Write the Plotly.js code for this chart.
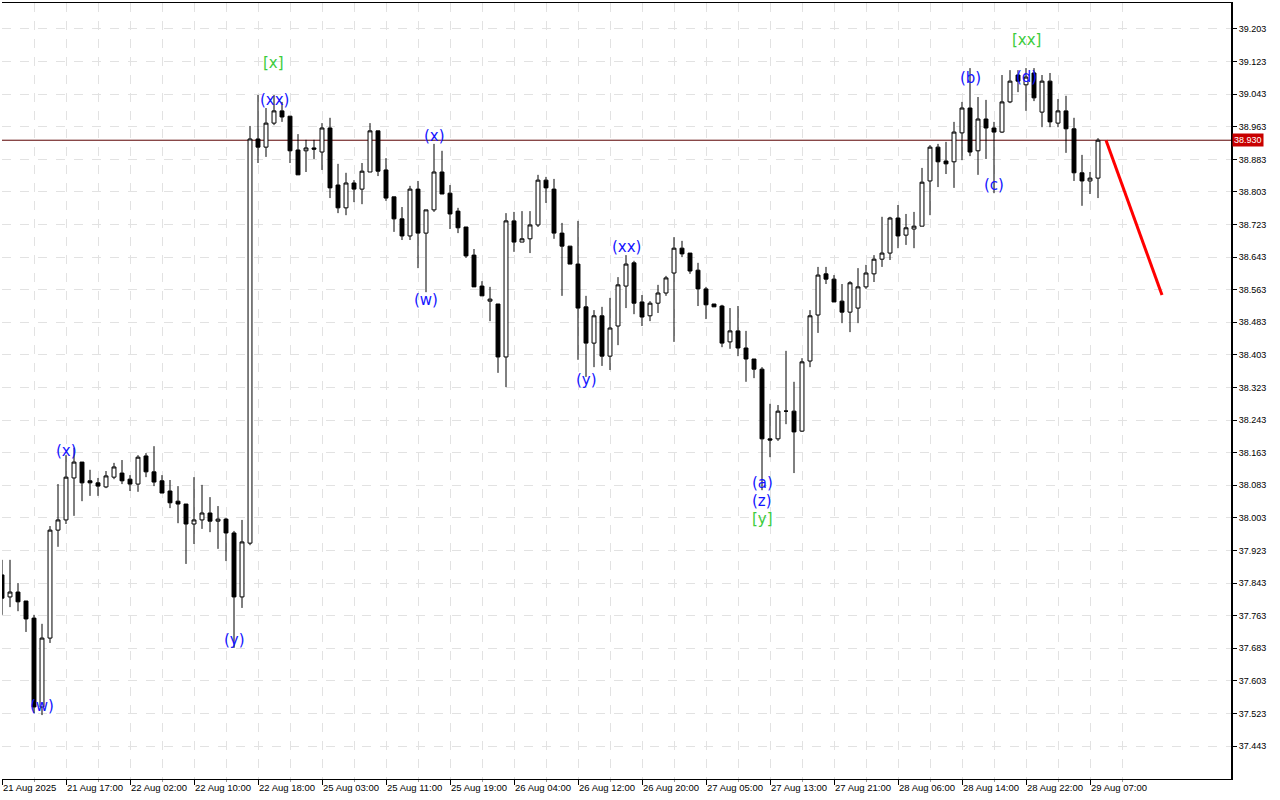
<!DOCTYPE html>
<html><head><meta charset="utf-8">
<script src="https://cdn.plot.ly/plotly-3.0.1.min.js"></script>
<style>html,body{margin:0;padding:0;background:#fff}#chart{width:1280px;height:800px}</style>
</head><body><div id="chart"></div>
<script>
const openP=[37.863,37.809,37.821,37.799,37.757,37.539,37.708,37.973,37.998,38.101,
38.140,38.094,38.089,38.079,38.103,38.113,38.098,38.086,38.155,38.116,
38.094,38.069,38.044,38.037,37.988,37.998,38.015,37.995,38.000,37.966,
37.809,37.941,38.933,38.913,38.972,39.002,38.989,38.906,38.904,38.911,
38.901,38.960,38.820,38.764,38.825,38.810,38.852,38.953,38.857,38.791,
38.737,38.695,38.810,38.702,38.759,38.852,38.800,38.756,38.717,38.648,
38.572,38.535,38.528,38.398,38.732,38.680,38.688,38.722,38.832,38.810,
38.702,38.670,38.626,38.521,38.432,38.499,38.400,38.474,38.572,38.629,
38.533,38.499,38.530,38.555,38.604,38.665,38.653,38.611,38.565,38.528,
38.523,38.435,38.462,38.420,38.393,38.368,38.197,38.197,38.265,38.265,
38.216,38.388,38.501,38.602,38.589,38.535,38.508,38.518,38.570,38.602,
38.638,38.653,38.739,38.697,38.712,38.719,38.830,38.913,38.879,38.877,
38.948,39.009,38.904,38.982,38.960,38.950,39.024,39.090,39.066,39.095,
38.999,39.075,38.972,39.002,38.958,38.850,38.830,38.837];
const highP=[37.900,37.900,37.843,37.799,37.765,37.743,37.983,38.086,38.157,38.175,
38.140,38.121,38.101,38.118,38.138,38.145,38.108,38.157,38.162,38.179,
38.108,38.096,38.081,38.037,38.103,38.084,38.054,38.032,38.003,37.971,
37.998,38.965,39.041,39.009,39.041,39.024,38.989,38.945,38.931,38.931,
38.972,38.985,38.872,38.850,38.832,38.874,38.972,38.953,38.886,38.791,
38.766,38.818,38.830,38.759,38.921,38.904,38.820,38.764,38.717,38.663,
38.584,38.570,38.528,38.751,38.754,38.756,38.756,38.845,38.840,38.835,
38.727,38.670,38.732,38.548,38.513,38.521,38.543,38.594,38.648,38.634,
38.550,38.535,38.575,38.597,38.692,38.683,38.653,38.629,38.570,38.528,
38.526,38.518,38.523,38.462,38.393,38.373,38.283,38.280,38.413,38.337,
38.395,38.513,38.619,38.619,38.599,38.577,38.584,38.616,38.624,38.648,
38.742,38.742,38.771,38.749,38.754,38.862,38.918,38.921,38.926,38.975,
39.024,39.107,39.036,39.029,38.975,39.090,39.102,39.102,39.107,39.107,
39.090,39.095,39.031,39.039,38.985,38.894,38.852,38.935];
const lowP=[37.765,37.784,37.774,37.723,37.524,37.519,37.696,37.932,37.988,38.008,
38.044,38.057,38.057,38.076,38.098,38.086,38.069,38.067,38.103,38.081,
38.064,38.027,37.990,37.890,37.939,37.976,37.968,37.927,37.897,37.684,
37.782,37.936,38.874,38.889,38.967,38.975,38.874,38.845,38.852,38.884,
38.857,38.788,38.751,38.746,38.778,38.773,38.852,38.842,38.781,38.705,
38.685,38.685,38.616,38.557,38.754,38.798,38.712,38.702,38.641,38.570,
38.548,38.486,38.359,38.324,38.656,38.680,38.653,38.717,38.776,38.688,
38.548,38.626,38.391,38.349,38.373,38.376,38.366,38.427,38.518,38.503,
38.474,38.486,38.506,38.548,38.435,38.643,38.602,38.523,38.491,38.521,
38.422,38.418,38.400,38.337,38.346,38.071,38.152,38.192,38.233,38.113,
38.214,38.373,38.457,38.577,38.533,38.481,38.459,38.481,38.565,38.582,
38.619,38.636,38.665,38.673,38.665,38.719,38.746,38.815,38.847,38.813,
38.881,38.891,38.845,38.884,38.800,38.948,39.021,39.048,39.002,39.026,
38.962,38.962,38.962,38.899,38.830,38.769,38.798,38.788];
const closeP=[37.806,37.821,37.797,37.755,37.539,37.708,37.973,37.998,38.103,38.140,
38.089,38.089,38.081,38.106,38.128,38.094,38.086,38.152,38.116,38.091,
38.064,38.040,38.037,37.988,37.998,38.015,37.995,38.000,37.966,37.809,
37.944,38.933,38.913,38.972,39.002,38.987,38.904,38.845,38.911,38.908,
38.960,38.813,38.764,38.825,38.810,38.854,38.953,38.854,38.788,38.737,
38.695,38.810,38.702,38.759,38.852,38.798,38.749,38.715,38.646,38.570,
38.548,38.540,38.398,38.732,38.680,38.688,38.722,38.832,38.813,38.702,
38.670,38.626,38.518,38.432,38.499,38.400,38.469,38.575,38.626,38.530,
38.496,38.530,38.555,38.592,38.665,38.651,38.609,38.565,38.526,38.521,
38.432,38.462,38.420,38.393,38.368,38.197,38.194,38.265,38.265,38.214,
38.386,38.499,38.599,38.589,38.533,38.508,38.580,38.570,38.604,38.638,
38.653,38.739,38.695,38.715,38.719,38.827,38.913,38.877,38.872,38.950,
39.009,38.901,38.982,38.960,38.950,39.024,39.075,39.075,39.085,39.034,
39.075,38.975,39.002,38.958,38.850,38.830,38.837,38.930];

const tickPos=[0,8,16,24,32,40,48,56,64,72,80,88,96,104,112,120,128,136];
const tickText=['21 Aug 2025','21 Aug 17:00','22 Aug 02:00','22 Aug 10:00','22 Aug 18:00','25 Aug 03:00','25 Aug 11:00','25 Aug 19:00','26 Aug 04:00','26 Aug 12:00','26 Aug 20:00','27 Aug 05:00','27 Aug 13:00','27 Aug 21:00','28 Aug 06:00','28 Aug 14:00','28 Aug 22:00','29 Aug 07:00'];
const yTickVals=[37.443,37.523,37.603,37.683,37.763,37.843,37.923,38.003,38.083,38.163,38.243,38.323,38.403,38.483,38.563,38.643,38.723,38.803,38.883,38.963,39.043,39.123,39.203];

const currentPrice=38.930;
const forecastX=[138,145];
const forecastY=[38.930,38.550];

const waveText=['(w)','(x)','(y)','[x]','(xx)','(x)','(w)','(y)','(xx)','(a)','(z)','[y]','(b)','(c)','(d)','[xx]'];
const waveX=[5,8,29,33.9,34,54,53,73,78,95,95,95,121,124,128,128];
const waveY=[37.541,38.167,37.703,39.120,39.029,38.940,38.538,38.341,38.668,38.089,38.044,38.000,39.083,38.820,39.085,39.176];
const waveColor=['#1414ff','#1414ff','#1414ff','#3ccc3c','#1414ff','#1414ff','#1414ff','#1414ff','#1414ff','#1414ff','#1414ff','#3ccc3c','#1414ff','#1414ff','#1414ff','#3ccc3c'];

const idx=openP.map((_,i)=>i);
const minorPos=tickPos.map(v=>v+4);
const FONT='Liberation Sans, Arial, sans-serif';

const traces=[
 {type:'candlestick',x:idx,open:openP,high:highP,low:lowP,close:closeP,
  increasing:{line:{color:'#000',width:1},fillcolor:'#ffffff'},
  decreasing:{line:{color:'#000',width:1},fillcolor:'#000000'},
  whiskerwidth:0,hoverinfo:'x+y',showlegend:false},
 {type:'scatter',mode:'lines',x:forecastX,y:forecastY,line:{color:'#ff0000',width:3},showlegend:false,hoverinfo:'skip'}
];

const annotations=waveText.map((t,i)=>({x:waveX[i],y:waveY[i],xref:'x',yref:'y',text:t,showarrow:false,
  font:{family:'DejaVu Sans, sans-serif',size:15,color:waveColor[i]},xanchor:'center',yanchor:'middle'}));
annotations.push({xref:'paper',x:1,xanchor:'left',yref:'y',y:currentPrice,yanchor:'middle',text:currentPrice.toFixed(3),
  showarrow:false,bgcolor:'#c80000',font:{family:FONT,size:9,color:'#ffffff'},borderpad:1,xshift:1});

const layout={
 width:1280,height:800,
 margin:{l:2,r:49,t:3,b:21},
 paper_bgcolor:'#ffffff',plot_bgcolor:'#ffffff',
 showlegend:false,boxgap:0.3,
 xaxis:{range:[0,153.625],tickmode:'array',tickvals:tickPos,ticktext:tickText,ticklabelposition:'outside right',tickangle:0,
  ticks:'outside',ticklen:5,tickcolor:'#000',showline:true,linecolor:'#000',linewidth:1,mirror:true,
  showgrid:true,gridcolor:'#e2e2e2',griddash:'dash',zeroline:false,
  minor:{tickmode:'array',tickvals:minorPos,ticks:'outside',ticklen:2,tickcolor:'#999',showgrid:true,gridcolor:'#e2e2e2',griddash:'dash'},
  rangeslider:{visible:false},tickfont:{family:FONT,size:9.5,color:'#000'},fixedrange:true},
 yaxis:{side:'right',range:[37.3621,39.2668],tickmode:'array',tickvals:yTickVals,tickformat:'.3f',
  ticks:'outside',ticklen:4,tickcolor:'#000',showline:true,linecolor:'#000',linewidth:2,
  showgrid:true,gridcolor:'#e2e2e2',griddash:'dash',zeroline:false,tickfont:{family:FONT,size:9,color:'#000'},fixedrange:true},
 shapes:[{type:'line',xref:'paper',x0:0,x1:1,yref:'y',y0:currentPrice,y1:currentPrice,line:{color:'#5a0000',width:1},layer:'below'}],
 annotations:annotations
};
Plotly.newPlot('chart',traces,layout,{displayModeBar:false,staticPlot:true});
</script></body></html>
